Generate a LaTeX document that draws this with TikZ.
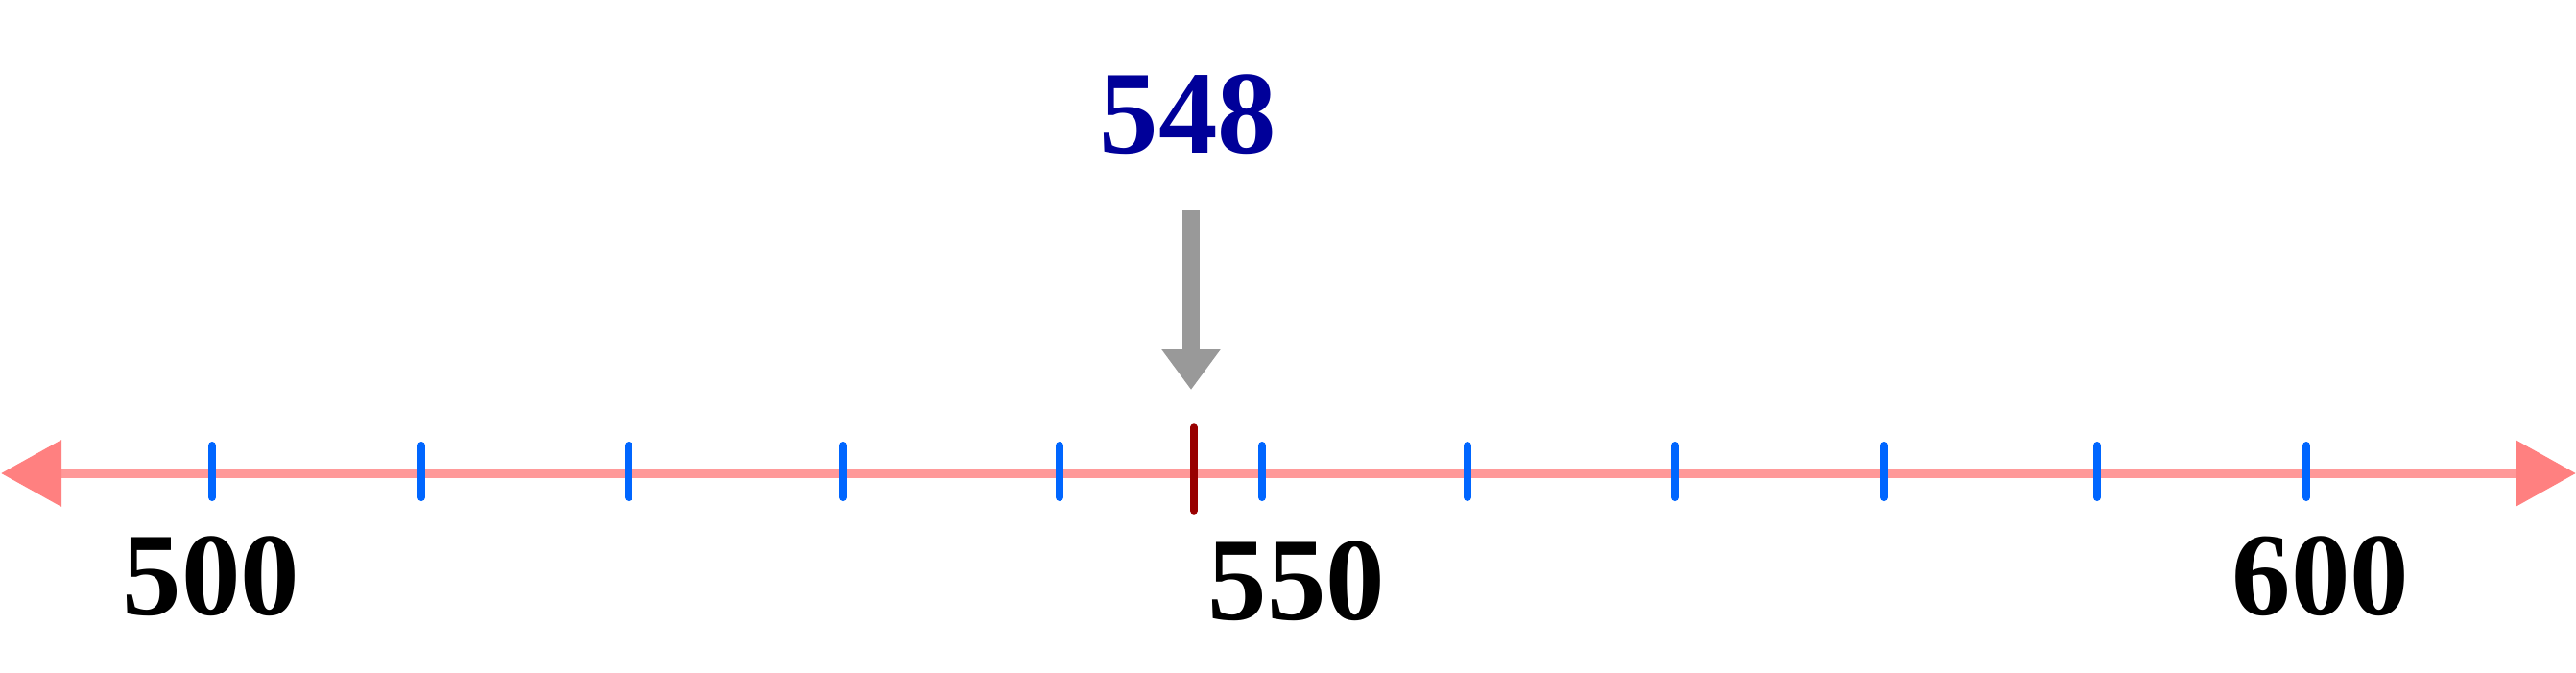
\documentclass[tikz,border=0pt]{standalone}
\usepackage{fontspec}
\setmainfont{Liberation Serif}[BoldFont={Liberation Serif Bold}]
\usetikzlibrary{arrows.meta,positioning}
\definecolor{linepink}{HTML}{FF9999}
\definecolor{headpink}{HTML}{FF8080}
\definecolor{tickblue}{HTML}{0066FF}
\definecolor{markred}{HTML}{990000}
\definecolor{numblue}{HTML}{000099}
\definecolor{ptrgray}{HTML}{999999}
\tikzset{
  numlabel/.style={font=\fontsize{35}{40}\selectfont\bfseries, inner sep=0pt},
  bluetick/.style={draw=tickblue, line width=0.08cm, line cap=round},
  marktick/.style={draw=markred, line width=0.075cm, line cap=round},
  pointer/.style={draw=ptrgray, line width=0.18cm, -{Triangle[width=0.6cm,length=0.43cm]}}
}
\begin{document}
\begin{tikzpicture}
  \useasboundingbox (0,0) rectangle (26.84,7);                 % Picture frame

  \coordinate (lineL) at (0.01,2.07);                          % Left end of line
  \coordinate (lineR) at (26.84,2.07);                         % Right end of line
  \draw[draw=linepink, line width=0.1cm,
        {Triangle[width=0.67cm,length=0.63cm,color=headpink]}-{Triangle[width=0.67cm,length=0.63cm,color=headpink]}]
        (lineL) -- (lineR);                                    % Number line

  \foreach \x [count=\i] in {2.21,4.39,6.55,8.78,11.04,13.15,15.29,17.45,19.63,21.85,24.03}
    \draw[bluetick] (\x,2.36) -- (\x,1.82);                    % Ticks every ten

  \draw[marktick] (12.44,2.55) -- (12.44,1.68);                % Mark for the number

  \node[numlabel] (n500) at (2.20,1.00) {500};                 % Label left
  \node[numlabel] (n550) at (13.51,0.95) {550};                % Label middle
  \node[numlabel] (n600) at (24.18,1.00) {600};                % Label right

  \node[numlabel, text=numblue] (n548) at (12.38,5.81) {548};  % Number above

  \coordinate (ptrtop) at (12.41,4.81);                        % Pointer start
  \coordinate (ptrtip) at (12.41,2.94);                        % Pointer tip
  \draw[pointer] (ptrtop) -- (ptrtip);                         % Pointer arrow
\end{tikzpicture}
\end{document}
